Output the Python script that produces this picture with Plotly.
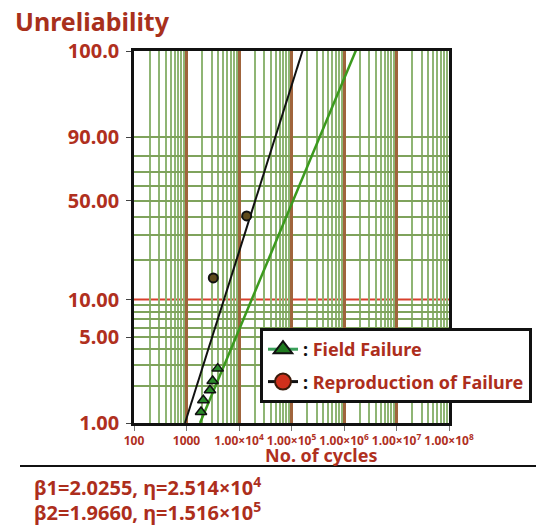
import numpy as np
import plotly.graph_objects as go

# ---------------- data ----------------
# Field failure data points (triangles)
field_cycles = [1890, 2090, 2800, 3150, 3930]
field_unrel = [1.23, 1.54, 1.86, 2.21, 2.79]          # %
# Reproduction-of-failure test points (circles)
repro_cycles = [3240, 14000]
repro_unrel = [14.7, 40.4]                              # %
# Fitted Weibull lines as drawn on the chart (end points)
repro_fit_cycles = [936, 180000]
repro_fit_unrel = [1.0, 99.9999]
field_fit_cycles = [1808, 1.92e6]
field_fit_unrel = [1.0, 99.9999]

# Weibull parameters printed below the chart
beta1, eta1_m, eta1_e = "2.0255", "2.514", 4
beta2, eta2_m, eta2_e = "1.9660", "1.516", 5

# axis ticks
x_tick_vals = [1e2, 1e3, 1e4, 1e5, 1e6, 1e7, 1e8]
x_tick_text = ["100", "1000", "1.00×10<sup>4</sup>", "1.00×10<sup>5</sup>",
               "1.00×10<sup>6</sup>", "1.00×10<sup>7</sup>", "1.00×10<sup>8</sup>"]
x_minor_vals = [m * 10 ** k for k in range(2, 8) for m in range(2, 10)]
y_tick_unrel = [1, 5, 10, 50, 90, 99.99935]
y_tick_text = ["1.00", "5.00", "10.00", "50.00", "90.00", "100.0"]
y_grid_unrel = [2, 3, 4, 5, 6, 7, 8, 9, 20, 30, 40, 50, 60, 70, 80, 90]
y_red_unrel = 10


def wb(p):
    """Weibull probability scale: ln(-ln(1-F))."""
    p = np.asarray(p, dtype=float) / 100.0
    return np.log(-np.log(1.0 - p))


# ---------------- figure geometry ----------------
FW, FH = 550, 527
L, R, T, B = 134, 101, 51, 104
PW, PH = FW - L - R, FH - T - B


def px(xp):
    return (xp - L) / PW


def py(yp):
    return (FH - B - yp) / PH


TXT = "#ad2e1c"
TICK = "#b0301e"
GRID_G = "#8fb574"
GRID_H = "#7fa35c"
GRID_B = "#a0643c"

fig = go.Figure()

# fitted lines
fig.add_trace(go.Scatter(x=repro_fit_cycles, y=wb(repro_fit_unrel), mode="lines",
                         line=dict(color="#111111", width=2), showlegend=False,
                         hoverinfo="skip"))
fig.add_trace(go.Scatter(x=field_fit_cycles, y=wb(field_fit_unrel), mode="lines",
                         line=dict(color="#3c9a1e", width=2.5), showlegend=False,
                         hoverinfo="skip"))
# data points
fig.add_trace(go.Scatter(x=repro_cycles, y=wb(repro_unrel), mode="markers",
                         marker=dict(symbol="circle", size=9, color="#5e4a1c",
                                     line=dict(color="#111111", width=2)),
                         showlegend=False))
fig.add_trace(go.Scatter(x=field_cycles, y=wb(field_unrel), mode="markers",
                         marker=dict(symbol="triangle-up", size=10, color="#2a8a2a",
                                     line=dict(color="#111111", width=1.5)),
                         showlegend=False))
# legend entries
fig.add_trace(go.Scatter(x=[None], y=[None], mode="lines+markers",
                         name="<span style='color:#111111'>:</span> Field Failure",
                         line=dict(color="#3aa05a", width=3),
                         marker=dict(symbol="triangle-up", size=16, color="#1f7a1f",
                                     line=dict(color="#111111", width=2)),
                         legendgroup="a"))
fig.add_trace(go.Scatter(x=[None], y=[None], mode="lines+markers",
                         name="<span style='color:#111111'>:</span> Reproduction of Failure",
                         line=dict(color="#111111", width=3),
                         marker=dict(symbol="circle", size=16, color="#d0301c",
                                     line=dict(color="#3a1a0a", width=2)),
                         legendgroup="b"))

ytop = float(wb([y_tick_unrel[-1]])[0])
ybot = float(wb([y_tick_unrel[0]])[0])

fig.update_layout(
    width=FW, height=FH, autosize=False,
    margin=dict(l=L, r=R, t=T, b=B),
    paper_bgcolor="white", plot_bgcolor="white",
    font=dict(family="Noto Sans", color=TXT),
    showlegend=True,
    legend=dict(x=px(260), y=py(328), xanchor="left", yanchor="top",
                bgcolor="white", bordercolor="#111111", borderwidth=3,
                font=dict(family="Noto Sans", size=18, color=TXT, weight="bold"),
                tracegroupgap=6, itemwidth=30),
    xaxis=dict(type="log", range=[2, 8], tickvals=x_tick_vals, ticktext=x_tick_text,
               tickangle=0,
               showgrid=True, gridcolor=GRID_B, gridwidth=3,
               minor=dict(tickvals=x_minor_vals, showgrid=True, gridcolor=GRID_G,
                          gridwidth=1.5, ticks=""),
               ticks="outside", ticklen=5, tickcolor="#777777",
               tickfont=dict(family="Noto Sans", size=12, color=TICK, weight="bold"),
               showline=True, linecolor="#111111", linewidth=2.5, mirror=True,
               zeroline=False),
    yaxis=dict(range=[ybot, ytop], tickvals=wb(y_tick_unrel), ticktext=y_tick_text,
               showgrid=False,
               minor=dict(tickvals=wb(y_grid_unrel), showgrid=True, gridcolor=GRID_H,
                          gridwidth=1.5, ticks=""),
               ticks="outside", ticklen=5, tickcolor="#444444", ticklabelstandoff=3,
               tickfont=dict(family="Noto Sans", size=20, color=TICK, weight="bold"),
               showline=True, linecolor="#111111", linewidth=2.5, mirror=True,
               zeroline=False),
)

# red 10% line
fig.add_shape(type="line", xref="paper", x0=0, x1=1, yref="y",
              y0=float(wb([y_red_unrel])[0]), y1=float(wb([y_red_unrel])[0]),
              line=dict(color="#d8402c", width=2), layer="between")

# separator line under the chart
fig.add_shape(type="line", xref="paper", yref="paper", x0=px(20), x1=px(536),
              y0=py(466), y1=py(466), line=dict(color="#111111", width=2))

# texts
fig.add_annotation(text="<b>Unreliability</b>", xref="paper", yref="paper",
                   x=px(13), y=py(21), xanchor="left", yanchor="middle",
                   showarrow=False, font=dict(family="Noto Sans", size=25, color="#a8301c"))
fig.add_annotation(text="<b>No. of cycles</b>", xref="paper", yref="paper",
                   x=px(321), y=py(455), xanchor="center", yanchor="middle",
                   showarrow=False, font=dict(family="Noto Sans", size=18, color=TICK))
fig.add_annotation(text=f"<b>β1={beta1}, η={eta1_m}×10<sup>{eta1_e}</sup></b>",
                   xref="paper", yref="paper", x=px(32), y=py(486),
                   xanchor="left", yanchor="middle", showarrow=False,
                   font=dict(family="Noto Sans", size=20, color=TXT))
fig.add_annotation(text=f"<b>β2={beta2}, η={eta2_m}×10<sup>{eta2_e}</sup></b>",
                   xref="paper", yref="paper", x=px(32), y=py(511),
                   xanchor="left", yanchor="middle", showarrow=False,
                   font=dict(family="Noto Sans", size=20, color=TXT))

fig.write_html("out.html", config={"displayModeBar": False},
               post_script="document.body.style.margin='0px';")
